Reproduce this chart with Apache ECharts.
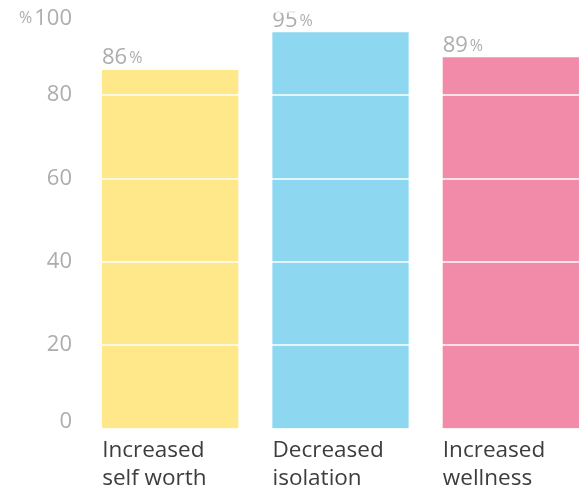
<!DOCTYPE html>
<html>
<head>
<meta charset="utf-8">
<script src="https://cdn.jsdelivr.net/npm/echarts@6/dist/echarts.min.js"></script>
<style>html,body{margin:0;padding:0;background:#fff}#c{width:584px;height:492px}</style>
</head>
<body>
<div id="c"></div>
<script>
const categories = ['Increased\nself worth', 'Decreased\nisolation', 'Increased\nwellness'];
const values = [86, 95, 89];
const colors = ['#FEE88A', '#8DD7F0', '#F28BAA'];
const yTicks = [0, 20, 40, 60, 80, 100];

const FONT = 'Open Sans';
const GRAY = '#ADADAD';
const chart = echarts.init(document.getElementById('c'));
chart.setOption({
  animation: false,
  backgroundColor: '#fff',
  grid: { left: 85, width: 511, top: 11.5, bottom: 63.5, containLabel: false, outerBoundsMode: 'none' },
  xAxis: {
    type: 'category',
    data: categories,
    axisLine: { show: false },
    axisTick: { show: false },
    axisLabel: {
      interval: 0,
      align: 'left',
      verticalAlign: 'top',
      margin: 8,
      padding: [0, 0, 0, -68],
      color: '#3d3d3d',
      fontFamily: FONT,
      fontWeight: 400,
      fontSize: 22.5,
      lineHeight: 28
    }
  },
  yAxis: {
    type: 'value',
    min: 0, max: 100, interval: 20,
    z: 5,
    axisLine: { show: false },
    axisTick: { show: false },
    splitLine: { show: true, lineStyle: { color: '#ffffff', width: 1.5 } },
    axisLabel: {
      margin: 13,
      color: GRAY,
      fontFamily: FONT,
      fontWeight: 400,
      fontSize: 22,
      lineHeight: 14,
      verticalAlignMinLabel: 'bottom',
      verticalAlignMaxLabel: 'top',
      formatter: function (v) {
        return v === yTicks[yTicks.length - 1] ? '{p|%}{m|' + v + '}' : '{n|' + v + '}';
      },
      rich: {
        n: { fontSize: 22, color: GRAY, fontFamily: FONT, fontWeight: 400, lineHeight: 14 },
        m: { fontSize: 22, color: GRAY, fontFamily: FONT, fontWeight: 400, lineHeight: 14 },
        p: { fontSize: 16, color: GRAY, fontFamily: FONT, fontWeight: 400, lineHeight: 8, padding: [0, 2, 1, 0] }
      }
    }
  },
  series: [{
    type: 'bar',
    barCategoryGap: '20%',
    data: values.map((v, i) => ({ value: v, itemStyle: { color: colors[i] } })),
    label: {
      show: true,
      position: [0, -1],
      align: 'left',
      verticalAlign: 'bottom',
      formatter: '{n|{c}}{p|%}',
      rich: {
        n: { fontSize: 22, color: GRAY, fontFamily: FONT, fontWeight: 400, lineHeight: 26, verticalAlign: 'bottom' },
        p: { fontSize: 16, color: GRAY, fontFamily: FONT, fontWeight: 400, lineHeight: 26, verticalAlign: 'bottom', padding: [0, 0, 2, 2] }
      }
    }
  }]
});
</script>
</body>
</html>
